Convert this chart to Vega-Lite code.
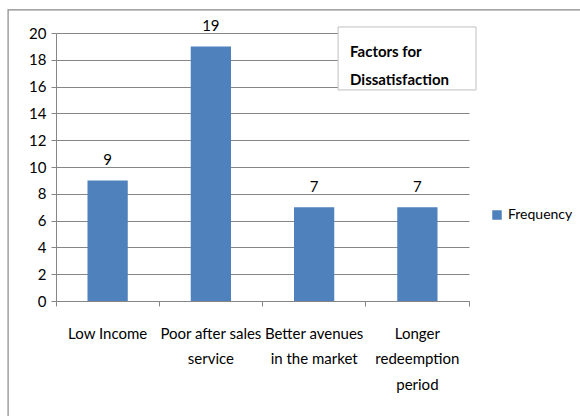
{
  "$schema": "https://vega.github.io/schema/vega-lite/v6.json",
  "width": 413,
  "height": 268,
  "autosize": {"type": "none"},
  "padding": {"left": 56, "top": 33, "right": 111, "bottom": 115},
  "background": "white",
  "config": {
    "view": {"stroke": null},
    "font": "Lato",
    "text": {"font": "Lato"}
  },
  "layer": [
    {
      "data": {
        "values": [
          {"factor": "Low Income", "frequency": 9},
          {"factor": "Poor after sales|service", "frequency": 19},
          {"factor": "Better avenues|in the market", "frequency": 7},
          {"factor": "Longer|redeemption|period", "frequency": 7}
        ]
      },
      "encoding": {
        "x": {
          "field": "factor",
          "type": "nominal",
          "sort": null,
          "scale": {"paddingInner": 0, "paddingOuter": 0},
          "axis": {
            "title": null,
            "labelAngle": 0,
            "labelExpr": "split(datum.label, '|')",
            "bandPosition": 1,
            "tickExtra": true,
            "tickSize": 5,
            "labelPadding": 20,
            "labelLineHeight": 25.5,
            "labelFontSize": 15,
            "labelFont": "Lato",
            "labelColor": "#000000",
            "labelBaseline": "top",
            "domainColor": "#868686",
            "tickColor": "#868686",
            "grid": false
          }
        },
        "y": {
          "field": "frequency",
          "type": "quantitative",
          "scale": {"domain": [0, 20], "nice": false},
          "axis": {
            "title": null,
            "values": [0, 2, 4, 6, 8, 10, 12, 14, 16, 18, 20],
            "labelOverlap": false,
            "tickSize": 5,
            "labelPadding": 5,
            "labelFontSize": 15,
            "labelFont": "Lato",
            "labelColor": "#000000",
            "gridColor": "#868686",
            "domainColor": "#868686",
            "tickColor": "#868686"
          }
        }
      },
      "layer": [
        {
          "mark": {"type": "bar", "width": {"band": 0.39}},
          "encoding": {
            "color": {
              "datum": "Frequency",
              "type": "nominal",
              "scale": {"range": ["#4F81BD"]},
              "legend": {
                "title": null,
                "orient": "none",
                "legendX": 434,
                "legendY": 175,
                "padding": 0,
                "symbolType": "square",
                "symbolSize": 90,
                "symbolStrokeWidth": 0,
                "labelFontSize": 14,
                "labelFont": "Lato",
                "labelColor": "#000000",
                "labelOffset": 4
              }
            }
          }
        },
        {
          "mark": {"type": "text", "baseline": "alphabetic", "dy": -15, "fontSize": 15, "color": "#000000"},
          "encoding": {
            "text": {"field": "frequency", "type": "quantitative"}
          }
        }
      ]
    },
    {
      "data": {"values": [{"t": "Factors for\nDissatisfaction"}]},
      "layer": [
        {
          "mark": {"type": "rect", "fill": null, "stroke": "#888888", "strokeWidth": 1.2},
          "encoding": {
            "x": {"datum": -0.116, "type": "quantitative", "scale": {"domain": [0, 1], "nice": false, "zero": false}, "axis": null},
            "x2": {"datum": 1.5},
            "y": {"datum": 21.72, "type": "quantitative", "scale": {"domain": [0, 20], "nice": false}, "axis": null},
            "y2": {"datum": -10}
          }
        },
        {
          "mark": {"type": "rect", "fill": "white", "stroke": "#c0c0c0", "strokeWidth": 1},
          "encoding": {
            "x": {"datum": 0.683, "type": "quantitative", "scale": {"domain": [0, 1], "nice": false, "zero": false}, "axis": null},
            "x2": {"datum": 1.017},
            "y": {"datum": 20.45, "type": "quantitative", "scale": {"domain": [0, 20], "nice": false}, "axis": null},
            "y2": {"datum": 15.75}
          }
        },
        {
          "mark": {"type": "text", "align": "left", "baseline": "top", "lineBreak": "\n", "lineHeight": 28, "fontSize": 15, "fontWeight": "bold", "color": "#000000"},
          "encoding": {
            "x": {"datum": 0.712, "type": "quantitative", "scale": {"domain": [0, 1], "nice": false, "zero": false}, "axis": null},
            "y": {"datum": 19.1, "type": "quantitative", "scale": {"domain": [0, 20], "nice": false}, "axis": null},
            "text": {"field": "t", "type": "nominal"}
          }
        }
      ]
    }
  ],
  "resolve": {"scale": {"x": "independent"}, "axis": {"x": "independent", "y": "independent"}}
}
